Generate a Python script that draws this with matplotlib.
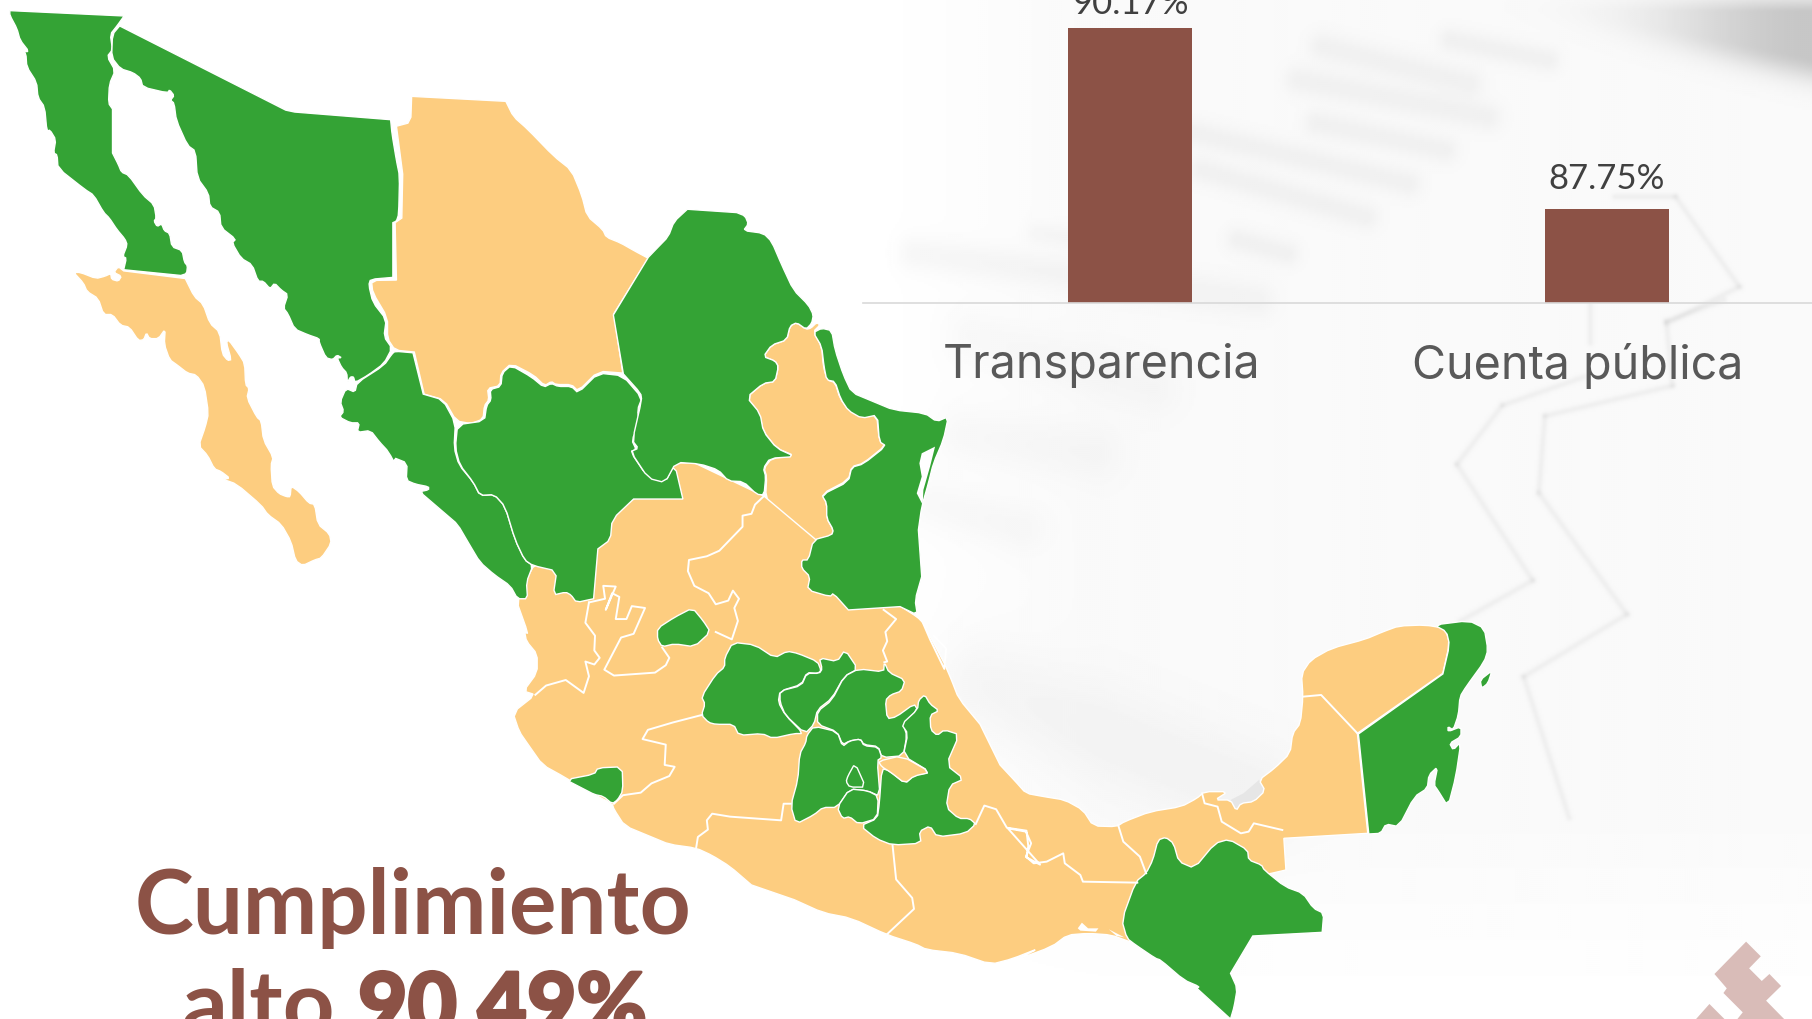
import numpy as np
import matplotlib
matplotlib.use('Agg')
import matplotlib.pyplot as plt
import matplotlib.patheffects as pe
from matplotlib.patches import Polygon
from matplotlib.transforms import ScaledTranslation

# ---- bar chart values
categories = ['Transparencia', 'Cuenta pública']
values = [90.17, 87.75]
value_labels = ['90.17%', '87.75%']

# ---- map outlines, traced from crops of the picture
# each crop: x0, y0, xscale, yscale
A = (0, 0, 2.24, 2.613)
B = (480, 440, 2.8, 2.708)
C = (1000, 600, 1.931, 3.0)
D = (600, 200, 3.0, 3.0)
E = (860, 300, 1.647, 2.8)
F = (860, 0, 1.647, 3.0)
G = (1660, 919, 3.0, 3.0)

def px(crop, pts):
    return [(crop[0] + x / crop[2], crop[1] + y / crop[3]) for x, y in pts]

baja = px(A, [(22,28),(278,42),(262,68),(247,90),(252,130),(240,148),(258,185),(245,220),(243,270),(252,285),(252,400),(265,430),(272,450),(288,458),(320,510),(345,535),(350,570),(345,578),(352,592),(362,585),(368,603),(380,610),(385,645),(408,655),(413,685),(420,695),(418,715),(405,720),(277,705),(283,675),(275,670),(285,640),(280,625),(262,600),(245,570),(232,555),(210,510),(190,495),(130,440),(128,405),(120,400),(125,365),(112,340),(105,343),(100,280),(85,255),(82,215),(60,175),(58,140),(50,135),(65,135),(45,105),(38,75),(22,40)])

baja_sur = px(A, [(277,708),(415,728),(435,775),(455,795),(470,845),(492,868),(498,925),(510,942),(518,940),(507,895),(512,888),(535,925),(548,950),(550,1005),(558,1015),(553,1040),(575,1090),(585,1100),(590,1150),(612,1195),(607,1215),(610,1270),(625,1290),(642,1298),(650,1298),(652,1270),(670,1285),(692,1315),(705,1318),(712,1370),(738,1395),(742,1420),(720,1458),(705,1463),(678,1478),(662,1465),(652,1415),(630,1370),(600,1345),(585,1320),(530,1265),(498,1252),(515,1250),(495,1232),(480,1225),(465,1190),(445,1165),(460,1115),(467,1080),(458,1010),(440,980),(420,975),(398,955),(380,940),(368,900),(370,860),(355,885),(335,885),(328,870),(322,888),(310,890),(290,855),(270,850),(252,822),(232,822),(220,780),(195,762),(187,740),(165,712),(180,712),(215,728),(235,722),(248,715),(250,730),(265,735),(272,722),(255,712),(265,697)])

sonora = px(A, [(268,68),(640,288),(660,293),(875,313),(878,350),(888,420),(895,460),(893,560),(888,578),(880,582),(880,725),(830,730),(826,745),(835,790),(865,835),(860,880),(878,910),(860,950),(825,980),(795,1000),(792,985),(785,985),(778,1000),(777,975),(765,960),(755,935),(765,935),(755,928),(745,940),(730,935),(715,895),(715,885),(690,875),(660,860),(645,820),(635,805),(645,770),(630,758),(615,740),(605,755),(590,735),(578,735),(565,692),(540,675),(520,635),(528,625),(495,595),(492,555),(470,540),(467,505),(442,465),(438,395),(420,380),(395,315),(390,270),(382,262),(390,250),(380,235),(375,243),(320,228),(315,205),(298,190),(270,180),(250,150),(252,90)])

chihuahua = px(A, [(922,252),(1133,265),(1150,305),(1182,338),(1240,408),(1280,445),(1303,510),(1315,565),(1350,600),(1358,620),(1390,635),(1420,655),(1452,675),(1375,820),(1395,975),(1340,970),(1295,1022),(1280,1005),(1245,1005),(1235,997),(1220,1008),(1195,980),(1145,950),(1122,975),(1120,1008),(1092,1015),(1095,1045),(1085,1060),(1082,1095),(1055,1107),(1022,1100),(995,1045),(950,1030),(928,920),(885,915),(868,885),(868,830),(835,765),(832,733),(888,732),(885,582),(900,570),(902,455),(888,330),(920,320)])

sinaloa = (px(A, [(885,918),(925,922),(948,1030),(992,1045),(1020,1105),(1017,1170),(1028,1215),(1060,1260),(1075,1295)])
           + px(B, [(40,148),(70,180),(98,270),(125,325),(148,340),(130,385),(133,430),(105,430),(85,395),(40,365)])
           + px(A, [(1075,1469),(1050,1420),(1025,1370),(1000,1345),(975,1320),(940,1285),(960,1280),(960,1272),(930,1265),(910,1255),(912,1210),(880,1195),(895,1235),(870,1180),(850,1155),(830,1125),(800,1130),(805,1105),(785,1105),(760,1090),(770,1075),(762,1050),(775,1015),(795,1025),(800,1000),(860,955),(878,925)]))

durango = (px(A, [(1025,1110),(1085,1100),(1090,1060),(1100,1045),(1098,1018),(1122,1010),(1125,975),(1145,955),(1190,985),(1218,1012),(1235,1002),(1250,1010),(1280,1010),(1295,1027),(1340,975),(1395,982),(1438,1040),(1428,1070),(1432,1110),(1415,1150),(1425,1175),(1412,1180)])
           + px(B, [(465,95),(518,115),(545,65),(568,160),(430,160),(370,215),(365,270),(330,295),(318,430),(270,440),(255,420),(240,412),(205,420),(215,355),(148,340),(125,325),(98,270),(70,180),(40,148),(0,150)])
           + px(A, [(1060,1260),(1030,1215),(1020,1170)]))

coahuila = px(D, [(145,172),(168,148),(205,110),(222,65),(262,28),(410,38),(435,48),(445,72),(430,92),(490,100),(515,125),(545,195),(580,270),(625,315),(640,345),(635,370),(618,388),(590,368),(570,378),(560,420),(515,435),(490,470),(525,483),(535,500),(525,545),(490,550),(440,592),(480,640),(490,695),(530,745),(585,770),(510,775),(490,805),(497,830),(492,885),(470,883),(430,845),(385,843),(355,810),(300,792),(228,787),(195,848),(145,835),(92,755),(115,745),(97,722),(125,600),(122,580),(70,522),(40,345)])

nuevo_leon = px(D, [(590,368),(618,388),(632,385),(650,368),(660,375),(640,395),(665,440),(670,500),(682,540),(705,548),(720,595),(745,630),(785,650),(830,645),(838,725),(858,735),(790,790),(755,800),(745,840),(665,882),(680,910),(680,955),(700,990),(695,1008),(640,1020),(622,1078),(602,1080),(600,1100),(570,1098),(550,1105),(545,1005),(522,960),(520,920),(497,890),(500,830),(492,805),(515,775),(585,768),(530,745),(490,695),(478,640),(440,592),(490,550),(525,545),(535,500),(525,483),(490,470),(515,435),(560,420),(570,378)])

tamaulipas = px(D, [(640,398),(665,385),(695,392),(705,450),(730,525),(755,578),(820,605),(880,630),(975,640),(1010,665),(1045,650),(1030,720),(1000,790),(985,850),(965,920),(955,990),(965,1130),(945,1200),(952,1245),(900,1220),(745,1230),(700,1180),(690,1190),(622,1170),(630,1130),(605,1105),(605,1080),(625,1080),(640,1020),(695,1005),(700,990),(680,955),(680,910),(665,885),(745,845),(755,802),(790,792),(858,738),(838,725),(832,645),(785,655),(745,632),(722,597),(705,545),(680,540),(672,500),(665,440)])
laguna_madre = px(D, [(965,760),(1005,740),(990,800),(970,870),(968,915),(950,880),(965,830),(958,790)])

# everything tan from Nayarit round to Yucatan, green states sit on top of it
tan_south = (px(B, [(148,345),(100,430),(135,525),(125,520),(130,545),(160,580),(160,630),(122,680),(155,690),(92,738),(110,790),(135,825),(175,880),(235,912),(290,945),(370,985),(375,1000),(405,1045),(480,1075),(530,1095),(605,1105),(650,1125),(700,1155),(760,1205),(880,1245),(960,1280),(1040,1295),(1140,1340),(1220,1365),(1250,1380),(1340,1390),(1430,1420),(1490,1405),(1568,1375)])
             + px(C, [(30,1080),(100,1040),(130,1005),(170,1000),(215,1005),(250,1025),(300,900),(552,810),(548,715),(710,700),(690,400),(855,220),(868,130),(860,85),(820,75),(770,78),(740,95),(705,118),(640,145),(600,180),(582,222),(585,290),(580,370),(565,400),(560,460),(530,505),(500,540),(512,572),(490,605),(465,610),(456,632),(445,600),(415,600),(440,575),(395,575),(380,595),(350,620),(290,635),(240,665),(225,680),(180,678),(160,630),(125,600),(85,590),(50,580),(30,545),(0,495)])
             + px(B, [(1400,770),(1340,700),(1320,650),(1300,605),(1240,495),(1225,480),(1180,452),(1100,400),(795,152),(600,62),(548,62),(430,160)]))
terminos = px(C, [(500,540),(512,572),(490,605),(465,610),(456,632),(445,600),(470,580)])

guanajuato = px(B, [(708,548),(770,555),(825,590),(860,572),(890,578),(945,600),(955,625),(945,632),(915,630),(900,662),(840,680),(835,710),(855,745),(905,795),(880,795),(820,808),(790,795),(725,800),(710,770),(660,770),(640,765),(620,745),(630,715),(620,695),(660,635),(685,615),(685,590)])
queretaro = px(B, [(950,590),(1000,600),(1022,568),(1058,620),(1020,640),(985,700),(945,730),(935,770),(910,795),(855,745),(840,710),(840,680),(900,665),(915,632),(950,632),(958,620)])
hidalgo = px(B, [(1060,620),(1130,628),(1132,602),(1145,630),(1190,650),(1180,680),(1150,690),(1135,705),(1140,755),(1165,750),(1215,715),(1225,730),(1185,770),(1195,800),(1185,855),(1125,860),(1115,830),(1075,825),(1065,810),(1035,815),(1015,825),(1000,790),(945,770),(945,735),(985,705),(1020,640)])
puebla = px(B, [(1245,690),(1260,715),(1285,733),(1260,745),(1262,785),(1280,800),(1300,785),(1342,798),(1305,880),(1355,918),(1315,935),(1305,995),(1340,1025),(1370,1025),(1388,1040),(1360,1065),(1280,1075),(1260,1045),(1230,1060),(1235,1092),(1155,1097),(1110,1080),(1065,1045),(1112,1025),(1118,985),(1125,890),(1145,895),(1190,930),(1215,908),(1262,900),(1185,855),(1198,795),(1180,770),(1225,730),(1228,705)])
edomex = px(B, [(915,800),(935,775),(1000,790),(1015,830),(1035,815),(1065,810),(1075,828),(1115,832),(1125,860),(1112,868),(1120,965),(1085,950),(1035,945),(1000,995),(960,995),(935,1015),(885,1040),(870,990),(890,920),(895,850),(912,820)])
cdmx = px(B, [(1030,910),(1050,875),(1080,940),(1035,940),(1025,925)])
morelos = px(B, [(1000,995),(1035,945),(1085,950),(1115,965),(1112,1025),(1060,1040),(1035,1020),(1015,1025)])
aguascalientes = px(B, [(497,510),(545,480),(595,455),(625,490),(645,520),(600,560),(545,552),(510,560),(497,540)])
colima = px(B, [(240,920),(320,905),(330,888),(398,885),(400,950),(385,975),(370,985),(345,965),(320,960),(290,945)])
chiapas = px(C, [(262,845),(282,820),(295,780),(305,720),(320,712),(335,730),(345,785),(375,805),(415,730),(442,718),(478,750),(480,780),(505,795),(510,810),(550,860),(585,880),(605,925),(625,940),(622,997),(488,1008),(445,1120),(458,1165),(452,1220),(445,1257),(380,1165),(385,1160),(355,1140),(310,1080),(300,1075),(262,1035),(245,1015),(235,960)])
quintana_roo = px(C, [(692,402),(855,222),(868,135),(862,95),(838,75),(905,62),(935,85),(942,150),(935,185),(900,260),(888,290),(885,345),(875,390),(865,380),(865,395),(890,380),(890,410),(868,430),(875,450),(890,425),(880,530),(865,620),(845,570),(838,555),(845,500),(828,525),(825,565),(800,590),(770,680),(745,672),(735,700),(712,702)])
cozumel = px(C, [(930,265),(927,240),(950,212),(942,250)])
oaxaca_lagoon1 = px(C, [(150,985),(158,968),(170,985),(190,985),(185,995),(155,992)])
oaxaca_lagoon2 = px(C, [(210,988),(240,1012),(225,1008)])

green_states = [baja, sonora, sinaloa, durango, coahuila, tamaulipas, guanajuato, queretaro, hidalgo, puebla,
                edomex, cdmx, morelos, aguascalientes, colima, chiapas, quintana_roo, cozumel]
tan_states = [baja_sur, chihuahua, nuevo_leon, tan_south]

# borders between two tan states
tan_borders = [
    px(B, [(305,440),(295,495),(322,530),(320,570),(335,590),(320,608),(295,600),(305,640),(290,685),(240,650),(185,665),(155,690)]),
    px(B, [(620,745),(540,765),(470,785),(455,810),(520,825),(517,880),(545,885),(530,910),(480,930),(450,955),(400,962),(375,985)]),
    px(B, [(870,985),(850,985),(843,1030),(700,1020),(650,1012),(635,1030),(638,1055),(610,1075),(605,1105)]),
    px(B, [(1155,1097),(1165,1190),(1210,1240),(1215,1270),(1140,1338)]),
    px(B, [(795,152),(770,175),(760,200),(735,205),(735,235),(670,300),(635,315),(585,325),(582,355),(600,395),(640,415),(660,445),(695,435),(708,408),(725,430),(712,455),(722,490),(705,540),(660,520)]),
    px(B, [(510,562),(530,590),(520,610),(490,630),(375,638),(348,622),(395,535),(430,525),(462,455),(425,450),(410,485),(380,485),(390,425),(370,415),(352,460),(380,397),(345,395),(350,430),(305,440)]),
    px(B, [(1130,460),(1165,485),(1135,520),(1140,545),(1128,570),(1140,600),(1132,602)]),
    px(B, [(1388,1040),(1412,990),(1445,1000),(1475,1050),(1530,1058),(1535,1100),(1530,1130),(1568,1150)])
    + px(C, [(15,685),(50,695),(60,730),(50,770),(65,790),(90,785),(122,760),(125,790),(155,825),(160,845),(265,848)]),
    px(C, [(228,675),(238,725),(270,770),(282,820)]),
    px(C, [(390,580),(395,610),(420,620),(428,665),(465,700),(480,695),(490,670),(545,690)]),
    px(C, [(585,290),(620,285),(690,400)]),
    px(B, [(1240,495),(1260,540),(1300,620),(1305,565),(1270,530)]),
]
tlaxcala = px(B, [(1115,870),(1180,855),(1262,900),(1215,910),(1190,930),(1150,900),(1125,885)])

logo_main = px(G, [(258,68),(302,112),(267,148),(305,186),(328,165),(363,201),(318,245),(372,300),(232,300),(248,280),(190,222),(200,208),(163,165)])
logo_left = px(G, [(148,255),(193,300),(108,300)])

# faint picture behind the chart: (start and end, half width, darkness)
bg_bands = [
    (px(F, [(760,140),(1000,250)]), 14, .035), (px(F, [(720,240),(1030,350)]), 14, .035),
    (px(F, [(750,370),(960,450)]), 13, .035), (px(F, [(550,400),(900,550)]), 13, .035),
    (px(F, [(560,510),(830,650)]), 13, .035), (px(F, [(90,760),(650,900)]), 17, .028),
    (px(F, [(620,720),(700,760)]), 12, .035), (px(F, [(970,120),(1130,180)]), 12, .035),
    (px(F, [(290,700),(420,730)]), 11, .022),
    (px(E, [(180,100),(480,250)]), 26, .018), (px(E, [(170,380),(380,430)]), 28, .02),
    (px(E, [(120,570),(260,640)]), 24, .02),
    (px(E, [(200,1080),(640,1380)]), 48, .028),
]
bg_lines = [
    px(E, [(1420,0),(1325,60),(1335,240),(1125,325),(1115,540),(1260,880),(1090,1055),(1165,1450)]),
    px(E, [(1190,215),(1055,295),(980,460),(1105,785),(985,900)]),
    px(E, [(1200,0),(1200,120)]),
    px(F, [(1240,590),(1340,590),(1445,860),(1325,970)]),
]

W, H = 1812, 1019

def smooth(pts):
    # corner cutting for the traced coast, vertices on a long straight border stay sharp
    out = []
    n = len(pts)
    for i in range(n):
        x, y = pts[i]
        xp, yp = pts[i - 1]
        xn, yn = pts[(i + 1) % n]
        if np.hypot(x - xp, y - yp) > 42 or np.hypot(xn - x, yn - y) > 42:
            out.append((x, y))
        else:
            out.append((0.8 * x + 0.2 * xp, 0.8 * y + 0.2 * yp))
            out.append((0.8 * x + 0.2 * xn, 0.8 * y + 0.2 * yn))
    return out

def make_background():
    yy, xx = np.mgrid[0:H:2, 0:W:2].astype(float)
    img = np.ones_like(xx)
    img -= 0.022 * np.clip((xx - 860) / 240, 0, 1) * np.clip((1010 - yy) / 200, 0.15, 1)
    # dark wedge in the top right corner
    s = np.clip(yy - (xx - 1546) * 0.214, 0, None)
    img -= 0.2 * np.exp(-((xx - 1812) / 150) ** 2) * np.exp(-(s / 24) ** 2) * np.clip(yy / 22 + 0.5, 0, 1)
    for seg, w, d0 in bg_bands:
        (x0, y0), (x1, y1) = seg
        dx, dy = x1 - x0, y1 - y0
        t = np.clip(((xx - x0) * dx + (yy - y0) * dy) / (dx * dx + dy * dy), 0, 1)
        d = np.hypot(xx - x0 - t * dx, yy - y0 - t * dy)
        img -= d0 * np.exp(-(d / w) ** 2)
    for line in bg_lines:
        for (x0, y0), (x1, y1) in zip(line[:-1], line[1:]):
            dx, dy = x1 - x0, y1 - y0
            t = np.clip(((xx - x0) * dx + (yy - y0) * dy) / (dx * dx + dy * dy), 0, 1)
            d = np.hypot(xx - x0 - t * dx, yy - y0 - t * dy)
            img -= 0.04 * np.exp(-(d / 3) ** 2)
    return np.clip(img, 0, 1)

plt.rcParams['font.family'] = ['Lato', 'DejaVu Sans']

fig = plt.figure(figsize=(18.121, 10.191), dpi=100, facecolor='white')

ax = fig.add_axes([0, 0, 1, 1])
ax.imshow(make_background(), cmap='gray', vmin=0, vmax=1, extent=(0, W, H, 0), aspect='auto', interpolation='bilinear')
ax.set_xlim(0, W)
ax.set_ylim(H, 0)
ax.axis('off')

GREEN = '#34a335'
TAN = '#fdcd80'
BROWN = '#8c5246'

ax.add_patch(Polygon(terminos, facecolor='#e6e6e6', edgecolor='none'))
for pts in tan_states:
    ax.add_patch(Polygon(smooth(pts), facecolor=TAN, edgecolor='white', lw=1.0))
for line in tan_borders:
    ax.plot(*zip(*line), color='white', lw=1.4, solid_joinstyle='round')
for pts in green_states:
    ax.add_patch(Polygon(smooth(pts), facecolor=GREEN, edgecolor='white', lw=1.0))
ax.add_patch(Polygon(smooth(tlaxcala), facecolor=TAN, edgecolor='white', lw=1.0))
for pts in [laguna_madre, oaxaca_lagoon1, oaxaca_lagoon2]:
    ax.add_patch(Polygon(pts, facecolor='white', edgecolor='none'))
for pts in [logo_main, logo_left]:
    ax.add_patch(Polygon(pts, facecolor='#d9bcb8', edgecolor='none'))

ax.text(413, 934, 'Cumplimiento', color=BROWN, fontsize=64, fontweight='bold', ha='center', va='baseline')
ax.text(182, 1034, 'alto', color=BROWN, fontsize=65, fontweight='bold', ha='left', va='baseline')
ax.text(358, 1034, '90.49%', color=BROWN, fontsize=61.5, fontweight='black', ha='left', va='baseline',
        path_effects=[pe.withStroke(linewidth=2, foreground=BROWN)])

# bars on their own axes
ax2 = fig.add_axes([863 / W, 1 - 303 / H, (W - 863) / W, 303 / H], facecolor='none')
xpos = [0, 1]
ax2.bar(xpos, values, width=0.26, color=BROWN)
ax2.set_ylim(86.5, 90.545)
ax2.set_xlim(-0.56, 1.43)
for s in ['top', 'left', 'right']:
    ax2.spines[s].set_visible(False)
ax2.spines['bottom'].set_color('#d9d9d9')
ax2.spines['bottom'].set_linewidth(1.2)
ax2.set_yticks([])
ax2.set_xticks(xpos, categories, fontsize=33.6, color='#595959', family=['Inter', 'DejaVu Sans'])
ax2.tick_params(axis='x', length=0, pad=29)
shift = ScaledTranslation(-29 / 100, 0, fig.dpi_scale_trans)
for lab in ax2.get_xticklabels():
    lab.set_transform(lab.get_transform() + shift)
for x, v, lab, pad in zip(xpos, values, value_labels, [10.5, 14.5]):
    ax2.annotate(lab, (x, v), xytext=(0, pad), textcoords='offset points', ha='center', va='baseline',
                 fontsize=25, color='#404040', annotation_clip=False)

fig.savefig('out.png', dpi=100)
